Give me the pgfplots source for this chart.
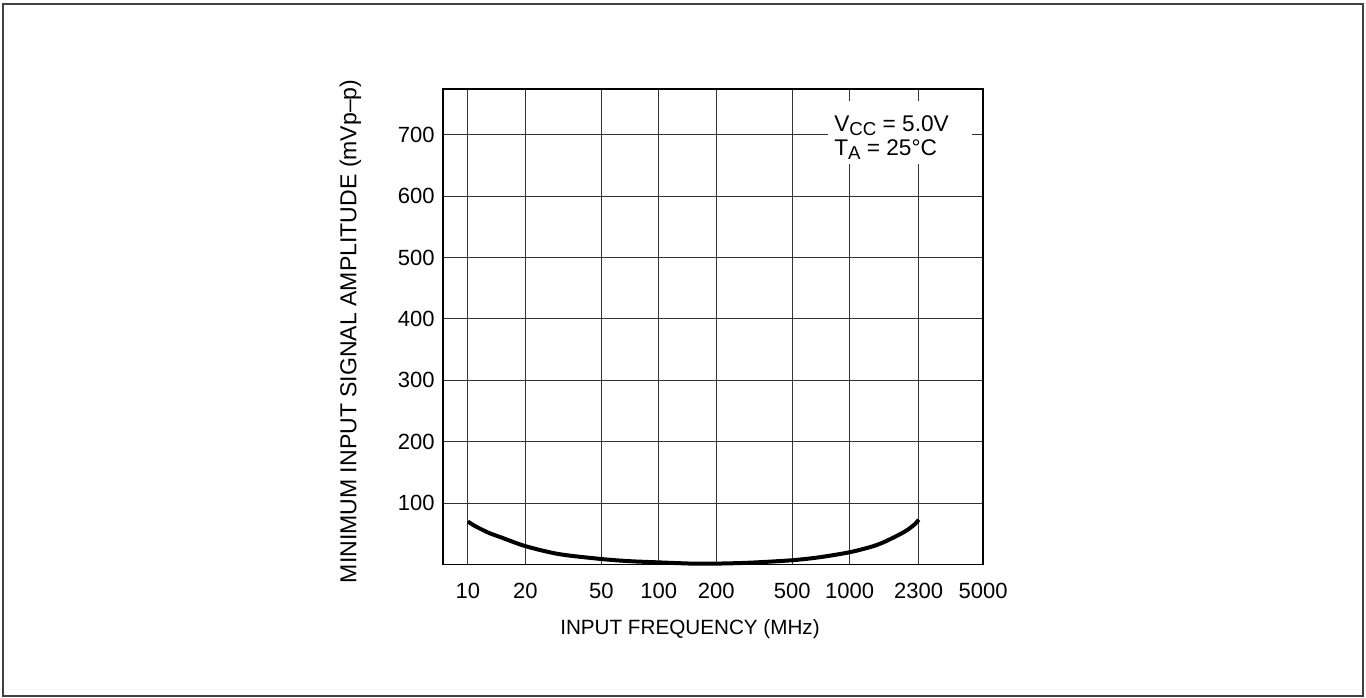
\documentclass[border=0pt]{standalone}
\usepackage{fontspec}
\setmainfont{Liberation Sans}
\usepackage{pgfplots}
\pgfplotsset{compat=1.18}
\newcommand{\sub}[1]{\raisebox{-0.32ex}{\fontsize{14}{14}\selectfont #1}}

\begin{document}
\begin{tikzpicture}
  \useasboundingbox (-332.5pt,-100.1pt) rectangle (692pt,423.4pt);
  \draw[line width=1.1pt, black!75] (-330.2pt,-98.6pt) rectangle (689.8pt,420.4pt);
  \begin{axis}[
    at={(0,0)}, anchor=south west,
    scale only axis,
    width=404.8pt, height=356.9pt,
    xmode=log,
    xmin=7.44, xmax=5000,
    ymin=0, ymax=775,
    xtick={10,20,50,100,200,500,1000,2300,5000},
    xticklabels={10,20,50,100,200,500,1000,2300,5000},
    ytick={100,200,300,400,500,600,700},
    minor x tick num=0,
    major tick length=0pt,
    grid=major,
    major grid style={line width=0.75pt, black!80},
    axis line style={line width=1.3pt},
    /pgf/number format/assume math mode=true,
    tick label style={font=\fontsize{16.5}{19}\selectfont},
    xticklabel style={anchor=center, yshift=-19.5pt},
    yticklabel style={xshift=-3pt},
    xlabel={INPUT FREQUENCY (MHz)},
    ylabel={MINIMUM INPUT SIGNAL AMPLITUDE (mVp–p)},
    xlabel style={at={(axis description cs:0.457,-0.136)}, anchor=center,
                  font=\fontsize{15.5}{18}\selectfont},
    ylabel style={at={(axis description cs:-0.172,0.49)}, anchor=center,
                  font=\fontsize{17.3}{20}\selectfont},
    clip=false,
  ]
    \addplot[black, line width=3pt, smooth] coordinates {
      (10,70) (11,62) (13,51) (15,44) (20,30) (30,17) (50,9) (70,5.5)
      (100,3.5) (150,1.5) (200,1.5) (300,3) (500,7) (700,12) (1000,20)
      (1300,29) (1500,36) (1800,48) (2000,56) (2200,66) (2300,73)
    };
    \fill[white] (axis cs:770,755) rectangle (axis cs:4376,653);
    \node[anchor=north west, inner sep=0pt, align=left,
          font=\fontsize{17}{18}\selectfont]
      at (axis cs:828,731)
      {V\sub{CC} = 5.0V\\T\sub{A} = 25°C};
  \end{axis}
\end{tikzpicture}
\end{document}
